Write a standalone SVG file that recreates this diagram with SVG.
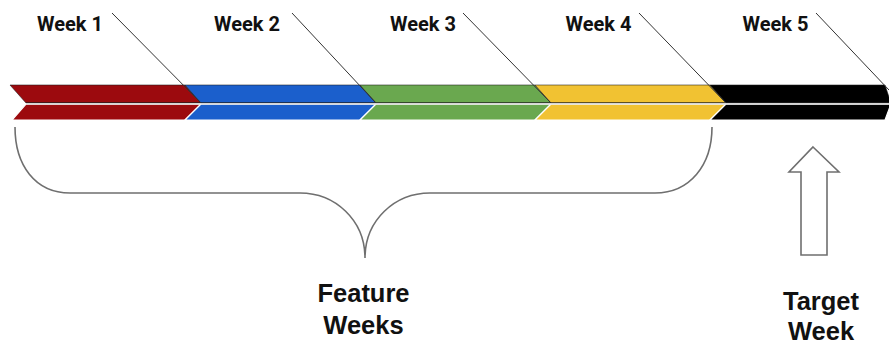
<svg xmlns="http://www.w3.org/2000/svg" width="889" height="345" viewBox="0 0 889 345">
<style>
.top{stroke:#1a1a1a;stroke-opacity:0.55;stroke-width:1}
.bot{stroke:#ffffff;stroke-width:1.2}
.wk{font-family:Roboto,"Liberation Sans",Arial,sans-serif;font-weight:bold;font-size:20px;fill:#111;text-anchor:middle}
.lbl{font-family:"Liberation Sans",Arial,Helvetica,sans-serif;font-weight:bold;font-size:25.5px;fill:#111;text-anchor:middle}
.lead{stroke:#333;stroke-width:1;fill:none}
.gray{stroke:#6f6f6f;stroke-width:1.6;fill:none}
</style>
<rect width="889" height="345" fill="#ffffff"/>
<g id="week1">
<polygon class="top" fill="#9c0a0e" points="10,85 185,85 201,103 26,103"/>
<polygon class="bot" fill="#9c0a0e" points="26,104 201,104 185,120 12,120"/>
<text class="wk" x="70" y="31">Week 1</text>
</g>
<g id="week2">
<polygon class="top" fill="#1b5fcc" points="185,85 360,85 376,103 201,103"/>
<polygon class="bot" fill="#1b5fcc" points="201,104 376,104 360,120 185,120"/>
<text class="wk" x="247" y="31">Week 2</text>
</g>
<g id="week3">
<polygon class="top" fill="#6aa84f" points="360,85 535,85 551,103 376,103"/>
<polygon class="bot" fill="#6aa84f" points="376,104 551,104 535,120 360,120"/>
<text class="wk" x="423" y="31">Week 3</text>
</g>
<g id="week4">
<polygon class="top" fill="#f1c232" points="535,85 710,85 726,103 551,103"/>
<polygon class="bot" fill="#f1c232" points="551,104 726,104 710,120 535,120"/>
<text class="wk" x="598.5" y="31">Week 4</text>
</g>
<g id="week5">
<polygon class="top" fill="#000000" points="710,85 885,85 891,103 726,103"/>
<polygon class="bot" fill="#000000" points="726,104 891,104 885,120 710,120"/>
<text class="wk" x="775.5" y="31">Week 5</text>
</g>
<g id="divider">
<line x1="26" y1="102.6" x2="889" y2="102.6" stroke="#222" stroke-width="1.2" stroke-opacity="0.6"/>
<line x1="26" y1="104.2" x2="889" y2="104.2" stroke="#e8e8e8" stroke-width="1.3"/>
</g>
<g id="connectors">
<line class="lead" x1="112" y1="13" x2="201" y2="103"/>
<line class="lead" x1="292" y1="13" x2="376" y2="103"/>
<line class="lead" x1="463" y1="13" x2="551" y2="103"/>
<line class="lead" x1="639" y1="13" x2="726" y2="103"/>
<line class="lead" x1="816" y1="13" x2="889" y2="90"/>
</g>
<g id="brace">
<path class="gray" d="M15,127 C15,165 35,193 70,193 L300,193 C335,193 365,220 365,258 C365,220 395,193 430,193 L655,193 C690,193 712,165 712,127"/>
</g>
<g id="target-arrow">
<polygon class="gray" stroke-width="1.4" fill="#ffffff" points="813,147 839,172 827,172 827,255 801,255 801,172 789,172"/>
</g>
<g id="feature-label">
<text class="lbl" x="363.5" y="302">Feature</text>
<text class="lbl" x="363.5" y="334">Weeks</text>
</g>
<g id="target-label">
<text class="lbl" x="821" y="310">Target</text>
<text class="lbl" x="821" y="340">Week</text>
</g>
</svg>
